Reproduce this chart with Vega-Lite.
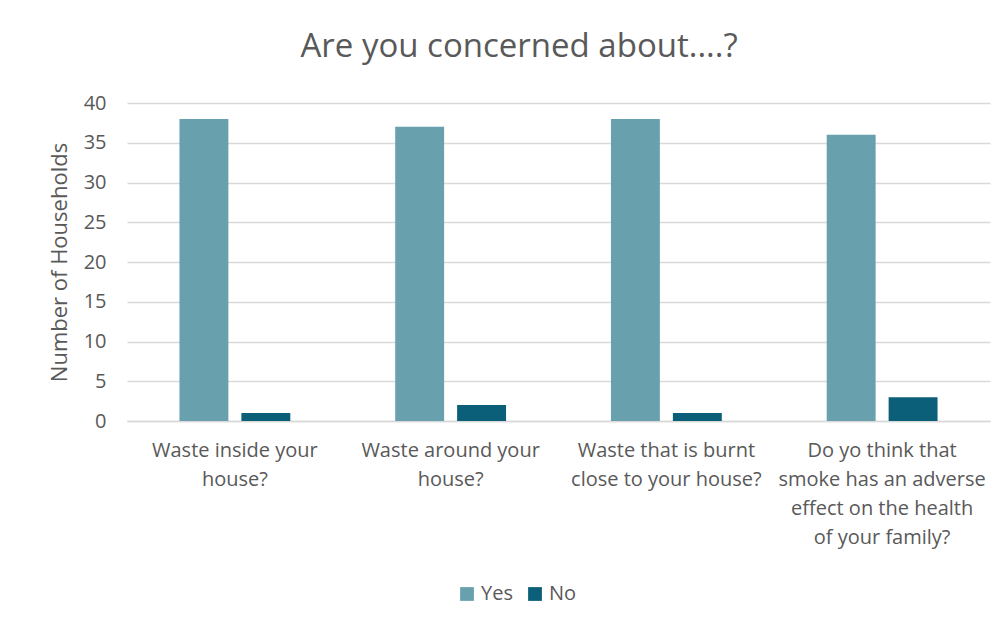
{
  "$schema": "https://vega.github.io/schema/vega-lite/v6.json",
  "width": 863,
  "height": 318,
  "autosize": "none",
  "padding": {"left": 127, "top": 103, "right": 18, "bottom": 208},
  "background": "white",
  "title": {
    "text": "Are you concerned about....?",
    "font": "Open Sans",
    "fontSize": 33,
    "fontWeight": "normal",
    "color": "#595959",
    "anchor": "middle",
    "frame": "bounds",
    "offset": 29
  },
  "data": {
    "values": [
      {"question": "Waste inside your|house?", "order": 1, "answer": "Yes", "count": 38},
      {"question": "Waste inside your|house?", "order": 1, "answer": "No", "count": 1},
      {"question": "Waste around your|house?", "order": 2, "answer": "Yes", "count": 37},
      {"question": "Waste around your|house?", "order": 2, "answer": "No", "count": 2},
      {"question": "Waste that is burnt|close to your house?", "order": 3, "answer": "Yes", "count": 38},
      {"question": "Waste that is burnt|close to your house?", "order": 3, "answer": "No", "count": 1},
      {"question": "Do yo think that|smoke has an adverse|effect on the health|of your family?", "order": 4, "answer": "Yes", "count": 36},
      {"question": "Do yo think that|smoke has an adverse|effect on the health|of your family?", "order": 4, "answer": "No", "count": 3}
    ]
  },
  "mark": {"type": "bar"},
  "encoding": {
    "x": {
      "field": "question",
      "type": "nominal",
      "sort": {"field": "order"},
      "scale": {"paddingInner": 0, "paddingOuter": 0},
      "axis": {
        "title": null,
        "labelAngle": 0,
        "labelExpr": "split(datum.label, '|')",
        "labelFont": "Open Sans",
        "labelFontSize": 20,
        "labelColor": "#595959",
        "labelLineHeight": 29,
        "labelPadding": 19,
        "labelOverlap": false,
        "labelLimit": 0,
        "labelBound": false,
        "ticks": false,
        "domainColor": "#d9d9d9",
        "domainWidth": 1.5
      }
    },
    "xOffset": {
      "field": "answer",
      "type": "nominal",
      "sort": ["Yes", "No"],
      "scale": {"paddingInner": 0.21, "paddingOuter": 0.847}
    },
    "y": {
      "field": "count",
      "type": "quantitative",
      "scale": {"domain": [0, 40]},
      "axis": {
        "title": "Number of Households",
        "titleFont": "Open Sans",
        "titleFontSize": 22,
        "titleFontWeight": "normal",
        "titleColor": "#595959",
        "titlePadding": 12,
        "values": [0, 5, 10, 15, 20, 25, 30, 35, 40],
        "labelFont": "Open Sans",
        "labelFontSize": 20,
        "labelColor": "#595959",
        "labelPadding": 21,
        "ticks": false,
        "domain": false,
        "gridColor": "#d9d9d9",
        "gridWidth": 1.3
      }
    },
    "color": {
      "field": "answer",
      "type": "nominal",
      "sort": ["Yes", "No"],
      "scale": {"domain": ["Yes", "No"], "range": ["#68a1ad", "#0b5f79"]},
      "legend": {
        "title": null,
        "orient": "none",
        "legendX": 330,
        "legendY": 481,
        "direction": "horizontal",
        "symbolType": "square",
        "symbolSize": 190,
        "symbolStrokeWidth": 0,
        "labelFont": "Open Sans",
        "labelFontSize": 20,
        "labelColor": "#595959",
        "labelOffset": 4,
        "columnPadding": 12
      }
    }
  },
  "config": {
    "view": {"stroke": null}
  }
}
